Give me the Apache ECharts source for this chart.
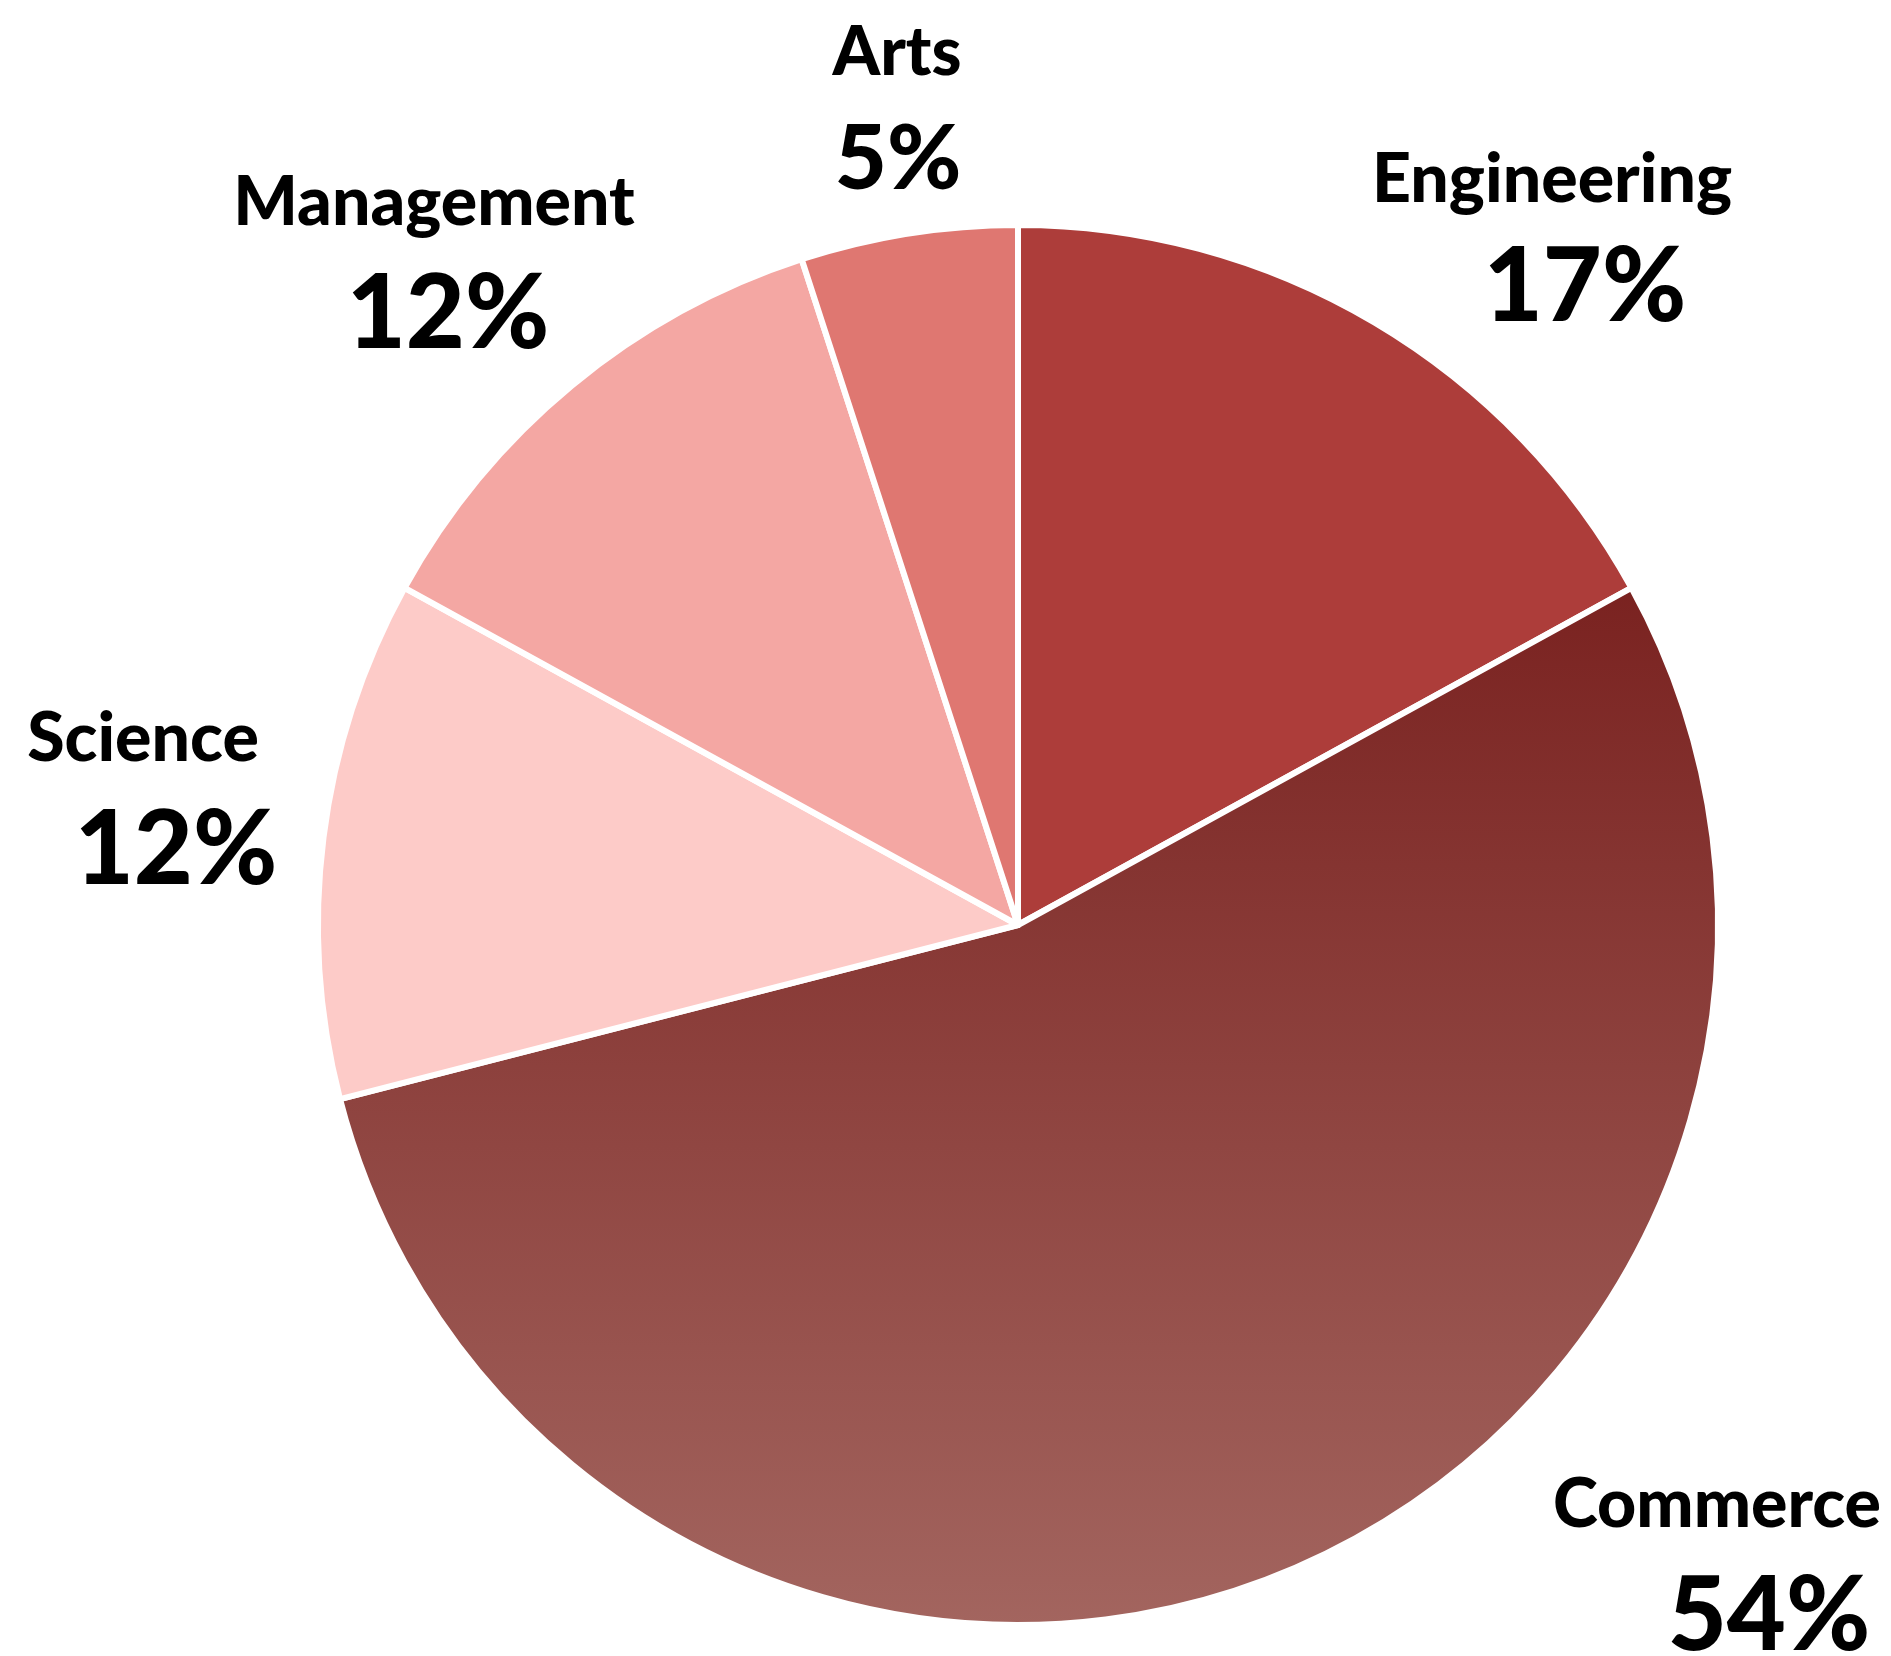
<!DOCTYPE html>
<html>
<head>
<meta charset="utf-8">
<script src="https://cdn.jsdelivr.net/npm/echarts@6/dist/echarts.min.js"></script>
<style>
  html, body { margin: 0; padding: 0; background: #ffffff; }
  #chart { width: 1891px; height: 1656px; }
</style>
</head>
<body>
<div id="chart"></div>
<script>
// ---- data ----
const categories = ['Engineering', 'Commerce', 'Science', 'Management', 'Arts'];
const shares = [17, 54, 12, 12, 5];

// ---- styles / layout (not data) ----
const sliceColors = ['#AD3D3A', null, '#FDCBC8', '#F4A7A3', '#DF7771'];
const namePos = [[1552, 180], [1717, 1505], [143, 739], [434, 203], [897, 53]];
const pctPos = [[1585, 288], [1769, 1617], [176, 851], [448, 315], [898, 160]];
const pctSize = [102, 102, 102, 102, 90];
const FONT = 'Lato';

const chart = echarts.init(document.getElementById('chart'), null, { renderer: 'canvas' });

const commerceGradient = new echarts.graphic.LinearGradient(0, 0, 0, 1, [
  { offset: 0, color: '#7A2220' },
  { offset: 1, color: '#A3655F' }
]);

const sliceData = categories.map((c, i) => ({
  name: c,
  value: shares[i],
  itemStyle: { color: sliceColors[i] || commerceGradient }
}));
const pctData = categories.map((c, i) => ({
  name: c,
  value: shares[i],
  label: { fontSize: pctSize[i] }
}));

const common = {
  type: 'pie',
  center: [1018, 925],
  radius: 700,
  startAngle: 90,
  clockwise: true,
  animation: false,
  labelLine: { show: false },
  emphasis: { disabled: true }
};

chart.setOption({
  backgroundColor: '#ffffff',
  series: [
    Object.assign({}, common, {
      data: sliceData,
      itemStyle: { borderColor: '#ffffff', borderWidth: 6 },
      label: {
        show: true,
        position: 'outside',
        formatter: '{b}',
        color: '#000000',
        fontFamily: FONT,
        fontWeight: 900,
        fontSize: 68
      },
      labelLayout: function (p) {
        const q = namePos[p.dataIndex];
        return { x: q[0], y: q[1], align: 'center', verticalAlign: 'middle', hideOverlap: false };
      }
    }),
    Object.assign({}, common, {
      data: pctData,
      silent: true,
      itemStyle: { color: 'rgba(0,0,0,0)', borderWidth: 0 },
      label: {
        show: true,
        position: 'outside',
        formatter: '{c}%',
        color: '#000000',
        fontFamily: FONT,
        fontWeight: 900,
        fontSize: 102
      },
      labelLayout: function (p) {
        const q = pctPos[p.dataIndex];
        return { x: q[0], y: q[1], align: 'center', verticalAlign: 'middle', hideOverlap: false };
      }
    })
  ]
});
</script>
</body>
</html>
